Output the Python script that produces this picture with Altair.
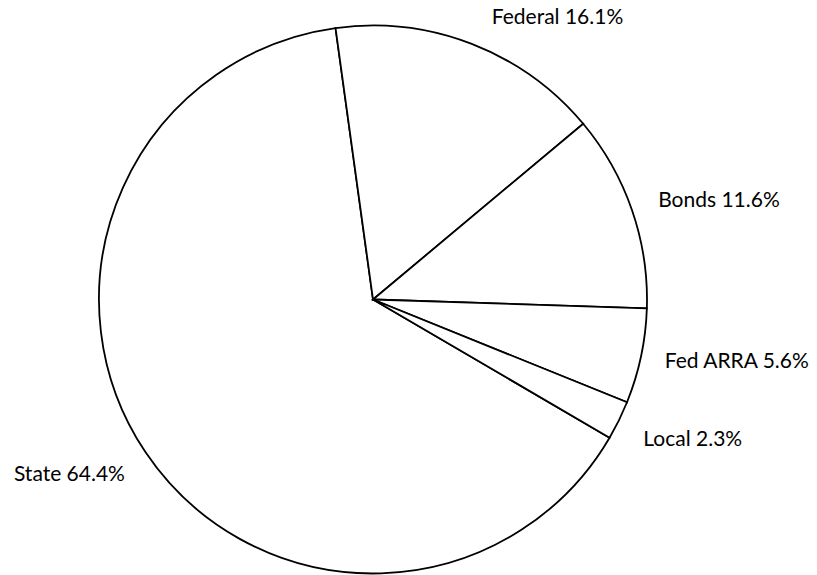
import altair as alt
import pandas as pd
import math

categories = ["State", "Federal", "Bonds", "Fed ARRA", "Local"]
shares = [64.4, 16.1, 11.6, 5.6, 2.3]
labels = ["State 64.4%", "Federal 16.1%", "Bonds 11.6%", "Fed ARRA 5.6%", "Local 2.3%"]

df = pd.DataFrame({"cat": categories, "share": shares, "label": labels,
                   "order": list(range(len(categories)))})

start = math.radians(120.3)
cx, cy, R = 373, 299.5, 274
FONT = "Lato"

theta_scale = alt.Scale(domain=[0, 100], range=[start, start + 2 * math.pi])

base = alt.Chart(df).transform_window(
    s1="sum(share)", sort=[alt.SortField("order")], frame=[None, 0]
).transform_calculate(
    s0="datum.s1 - datum.share",
    mid="datum.s1 - datum.share / 2",
).encode(
    x=alt.value(cx),
    y=alt.value(cy),
)

pie = base.mark_arc(outerRadius=R, fill="white", stroke="black", strokeWidth=1.8).encode(
    theta=alt.Theta("s0:Q", scale=theta_scale),
    theta2="s1:Q",
)

label_cfg = {
    "Federal": dict(align="center", dx=80, dy=-11),
    "Bonds": dict(align="left", dx=11, dy=-4),
    "Fed ARRA": dict(align="left", dx=8, dy=3),
    "Local": dict(align="left", dx=10, dy=13),
    "State": dict(align="right", dx=-7, dy=14),
}

layers = [pie]
for c in categories:
    cfg = label_cfg[c]
    layers.append(
        base.mark_text(radius=290, font=FONT, fontSize=21, color="black",
                       baseline="middle", **cfg)
        .encode(theta=alt.Theta("mid:Q", scale=theta_scale), text="label:N")
        .transform_filter(alt.datum.cat == c)
    )

chart = alt.layer(*layers).properties(
    width=817, height=575, padding=0,
    autosize=alt.AutoSizeParams(type="none"),
    background="white",
).configure_view(stroke=None)

chart.save("out.html", embed_options={"renderer": "svg", "actions": False})
